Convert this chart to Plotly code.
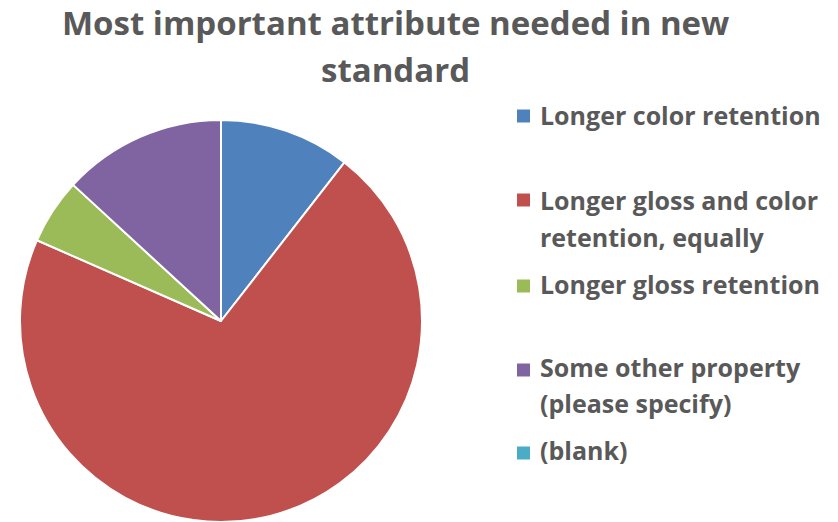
import plotly.graph_objects as go

# Survey responses: most important attribute for the new standard
labels = [
    "Longer color retention",
    "Longer gloss and color retention, equally",
    "Longer gloss retention",
    "Some other property (please specify)",
    "(blank)",
]
# legend text, one list of lines per entry
legend_lines = [
    ["Longer color retention"],
    ["Longer gloss and color", "retention, equally"],
    ["Longer gloss retention"],
    ["Some other property", "(please specify)"],
    ["(blank)"],
]
counts = [4, 27, 2, 5, 0]
colors = ["#4F81BD", "#C0504D", "#9BBB59", "#8064A2", "#4BACC6"]

title_lines = ["Most important attribute needed in new", "standard"]

W, H = 838, 522
TEXT = "#595959"
FONT = "Open Sans"


def py(y):
    """Pixel offset from the top -> paper fraction."""
    return 1 - y / H


def px(x):
    return x / W


cx, cy, r = 221, 321, 201

fig = go.Figure(
    go.Pie(
        labels=labels,
        values=counts,
        sort=False,
        direction="clockwise",
        rotation=0,
        marker=dict(colors=colors, line=dict(color="white", width=2)),
        textinfo="none",
        hoverinfo="label+value+percent",
        showlegend=False,
        domain=dict(x=[px(cx - r), px(cx + r)], y=[py(cy + r), py(cy - r)]),
    )
)

annotations = []
shapes = []

# Title, two centred lines (baselines at 35 and 82 px)
TS = 33
for line, base in zip(title_lines, [35, 82]):
    annotations.append(dict(
        text=f"<b>{line}</b>", x=px(395), y=py(base - 0.388 * TS),
        xref="paper", yref="paper", xanchor="center", yanchor="middle",
        showarrow=False, font=dict(family=FONT, size=TS, color=TEXT),
    ))

# Legend entries: swatch + text lines
LS = 25
baselines = [[125], [210, 247], [294], [377, 413], [460]]
swatch_y = [116, 200, 286, 370, 453]
sq = 13
for lines, col, bases, sy in zip(legend_lines, colors, baselines, swatch_y):
    shapes.append(dict(
        type="rect", xref="paper", yref="paper",
        x0=px(517), x1=px(517 + sq), y0=py(sy + sq / 2), y1=py(sy - sq / 2),
        fillcolor=col, line=dict(width=0),
    ))
    for line, base in zip(lines, bases):
        annotations.append(dict(
            text=f"<b>{line}</b>", x=px(538), y=py(base - 0.388 * LS),
            xref="paper", yref="paper", xanchor="left", yanchor="middle",
            showarrow=False, font=dict(family=FONT, size=LS, color=TEXT),
        ))

fig.update_layout(
    width=W, height=H,
    margin=dict(l=0, r=0, t=0, b=0),
    paper_bgcolor="white", plot_bgcolor="white",
    annotations=annotations, shapes=shapes,
)

fig.write_html("out.html")
